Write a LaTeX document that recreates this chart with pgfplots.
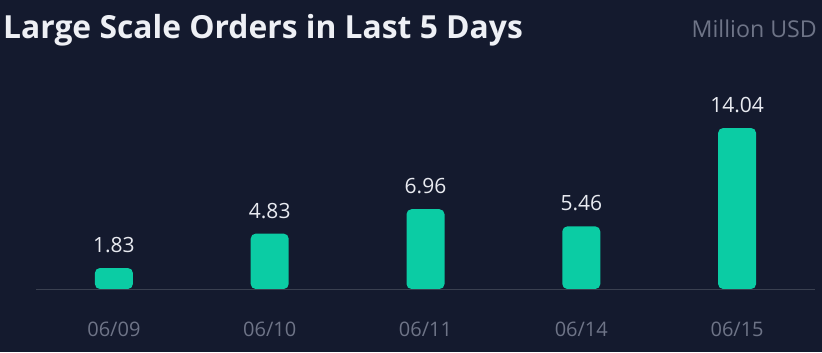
\documentclass[border=0pt]{standalone}
\usepackage{pgfplots}
\pgfplotsset{compat=1.18}
\usepackage{fontspec}
\setmainfont{Open Sans}
\definecolor{bg}{HTML}{141A2E}
\definecolor{bar}{HTML}{0BCCA4}
\definecolor{ttl}{HTML}{EEF0F5}
\definecolor{sub}{HTML}{6E7487}
\definecolor{base}{HTML}{3A4050}
\definecolor{val}{HTML}{E8EAF0}
\begin{document}
\begin{tikzpicture}[x=1bp,y=1bp]
\fill[bg] (0,0) rectangle (822,352);
\path[use as bounding box] (0,0) rectangle (822,352);
\node[anchor=base west, inner sep=0pt, text=ttl, font=\fontsize{31.8bp}{36bp}\selectfont\bfseries] at (3,314) {Large Scale Orders in Last 5 Days};
\node[anchor=base east, inner sep=0pt, text=sub, font=\fontsize{23.2bp}{26bp}\selectfont] at (817,315) {Million USD};
\begin{axis}[
  at={(36bp,63bp)}, anchor=origin,
  scale only axis, width=779bp, height=172bp,
  xmin=-0.5, xmax=4.5, ymin=0, ymax=15,
  anchor=south west,
  axis line style={draw=none},
  axis x line*=bottom,
  y axis line style={draw=none},
  ytick=\empty,
  xtick={0,1,2,3,4},
  xticklabels={06/09,06/10,06/11,06/14,06/15},
  major tick length=0pt,
  xticklabel style={anchor=base, yshift=-47bp, text=sub, font=\fontsize{20bp}{24bp}\selectfont},
  ybar, bar width=38bp,
  point meta=explicit symbolic,
  nodes near coords,
  nodes near coords style={anchor=south, inner sep=0pt, yshift=15bp, text=val, font=\fontsize{21bp}{24bp}\selectfont},
  clip=false,
]
\addplot[fill=bar, draw=none, rounded corners=5bp] coordinates {
  (0,1.83) [1.83]
  (1,4.83) [4.83]
  (2,6.96) [6.96]
  (3,5.46) [5.46]
  (4,14.04) [14.04]
};
\draw[base, line width=1bp] (axis cs:-0.5,0) -- (axis cs:4.5,0);
\end{axis}
\end{tikzpicture}
\end{document}
